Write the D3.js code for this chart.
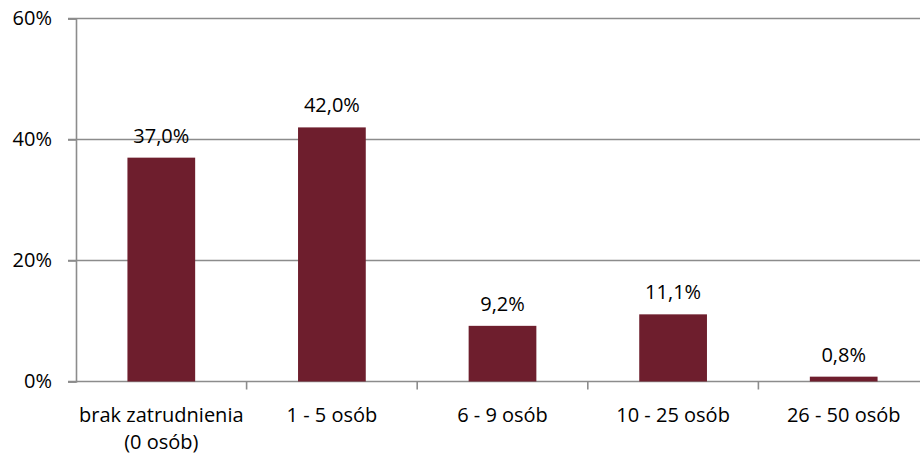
<!DOCTYPE html>
<html>
<head>
<meta charset="utf-8">
<script src="https://cdn.jsdelivr.net/npm/d3@7"></script>
<style>
  html, body { margin: 0; padding: 0; background: #fff; }
  svg text { font-family: "Open Sans", sans-serif; fill: #000; }
</style>
</head>
<body>
<svg id="chart" width="920" height="456"></svg>
<script>
// Struktura zatrudnienia
const categories = [["brak zatrudnienia", "(0 osób)"], ["1 - 5 osób"], ["6 - 9 osób"], ["10 - 25 osób"], ["26 - 50 osób"]];
const values = [37.0, 42.0, 9.2, 11.1, 0.8];
const yTicks = [0, 20, 40, 60];

const svg = d3.select("#chart");
const plotLeft = 76, plotRight = 929, plotTop = 18.5, plotBottom = 381.5;
const fontSize = 20;

const x = d3.scaleBand().domain(d3.range(categories.length)).range([plotLeft, plotRight]).padding(0);
const y = d3.scaleLinear().domain([0, 60]).range([plotBottom, plotTop]);
const barW = x.bandwidth() * 0.397;
const fmt = v => v.toFixed(1).replace(".", ",") + "%";

// poziome linie siatki
svg.append("g").selectAll("line").data(yTicks).join("line")
  .attr("x1", plotLeft - 8).attr("x2", 920)
  .attr("y1", d => y(d)).attr("y2", d => y(d))
  .attr("stroke", "#8c8c8c").attr("stroke-width", 1.6);

// oś Y
const yAxis = svg.append("g").attr("transform", `translate(${plotLeft},0)`)
  .call(d3.axisLeft(y).tickValues(yTicks).tickFormat(d => d + "%").tickSize(8).tickPadding(16));
yAxis.select(".domain").attr("stroke", "#8c8c8c").attr("stroke-width", 1.6);
yAxis.selectAll(".tick line").attr("stroke", "#8c8c8c").attr("stroke-width", 1.6);
yAxis.selectAll("text").attr("font-size", fontSize).attr("font-family", "'Open Sans', sans-serif").attr("fill", "#000");

// słupki
svg.append("g").selectAll("rect").data(values).join("rect")
  .attr("x", (d, i) => x(i) + x.bandwidth() / 2 - barW / 2)
  .attr("y", d => y(d))
  .attr("width", barW)
  .attr("height", d => y(0) - y(d))
  .attr("fill", "#6e1e2d");

// etykiety wartości
svg.append("g").selectAll("text").data(values).join("text")
  .attr("x", (d, i) => x(i) + x.bandwidth() / 2)
  .attr("y", d => y(d) - 15)
  .attr("text-anchor", "middle")
  .attr("font-size", fontSize)
  .text(fmt);

// znaczniki kategorii
svg.append("g").selectAll("line").data(d3.range(1, categories.length)).join("line")
  .attr("x1", i => x(i)).attr("x2", i => x(i))
  .attr("y1", plotBottom).attr("y2", plotBottom + 8)
  .attr("stroke", "#8c8c8c").attr("stroke-width", 1.6);

// etykiety kategorii
const cat = svg.append("g").selectAll("text").data(categories).join("text")
  .attr("x", (d, i) => x(i) + x.bandwidth() / 2)
  .attr("y", 422)
  .attr("text-anchor", "middle")
  .attr("font-size", fontSize);
cat.selectAll("tspan").data(d => d).join("tspan")
  .attr("x", function () { return d3.select(this.parentNode).attr("x"); })
  .attr("dy", (d, j) => j === 0 ? 0 : 27)
  .text(d => d);
</script>
</body>
</html>
